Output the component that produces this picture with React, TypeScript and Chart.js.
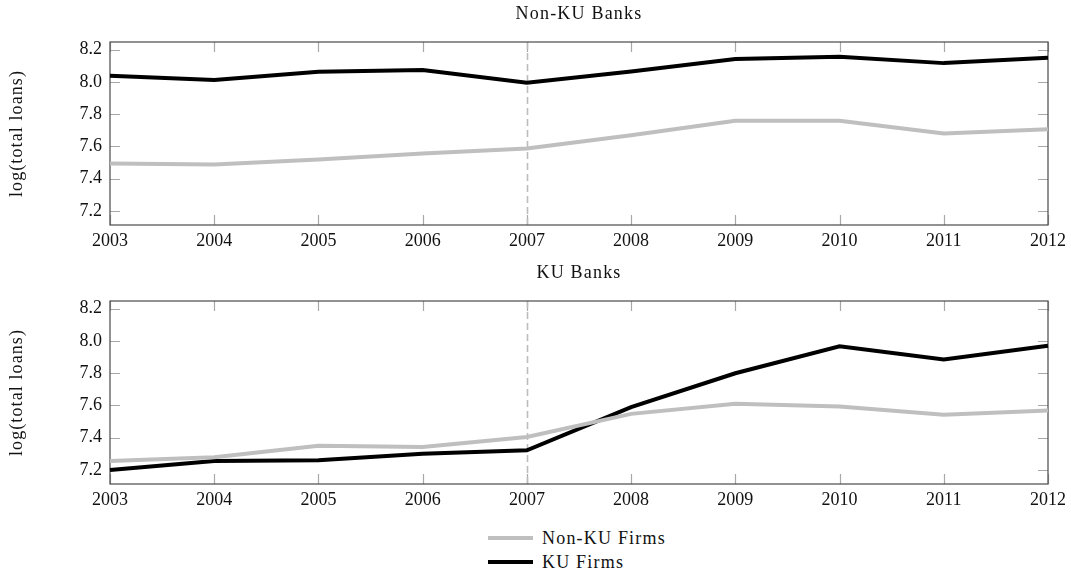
import React, { useEffect, useRef } from "react";
import { Chart, registerables } from "chart.js";

Chart.register(...registerables);

// Years on the horizontal axis
const years = ["2003", "2004", "2005", "2006", "2007", "2008", "2009", "2010", "2011", "2012"];
// Tick values on the vertical axis
const yTicks = [7.2, 7.4, 7.6, 7.8, 8.0, 8.2];
const yMin = 7.113;
const yMax = 8.248;
const breakYear = "2007";
const yAxisTitle = "log(total loans)";

// Non-KU Banks panel
const nonKuBanksNonKuFirms = [7.495, 7.489, 7.52, 7.557, 7.588, 7.67, 7.76, 7.76, 7.68, 7.707];
const nonKuBanksKuFirms = [8.038, 8.012, 8.063, 8.075, 7.995, 8.065, 8.142, 8.157, 8.117, 8.15];

// KU Banks panel
const kuBanksNonKuFirms = [7.256, 7.279, 7.35, 7.343, 7.405, 7.548, 7.611, 7.594, 7.542, 7.569];
const kuBanksKuFirms = [7.2, 7.255, 7.26, 7.3, 7.322, 7.59, 7.8, 7.967, 7.885, 7.97];

const seriesNames = ["Non-KU Firms", "KU Firms"];
const GRAY = "#bfbfbf";
const BLACK = "#000000";
const TEXT = "#111111";
const FONT = "'Liberation Serif', 'Times New Roman', serif";
const FONT_SIZE = 18;

// Frame, inward tick marks and the dashed marker line, drawn under the series
const framePlugin = {
  id: "frameTicks",
  beforeDatasetsDraw(chart: any) {
    const { ctx, chartArea: a, scales } = chart;
    const xs = scales.x;
    const ys = scales.y;
    const tl = 10;
    ctx.save();
    ctx.strokeStyle = "#a8a8a8";
    ctx.lineWidth = 1.2;
    ctx.beginPath();
    xs.ticks.forEach((_: any, i: number) => {
      const px = Math.round(xs.getPixelForTick(i)) + 0.5;
      ctx.moveTo(px, a.bottom);
      ctx.lineTo(px, a.bottom - tl);
      ctx.moveTo(px, a.top);
      ctx.lineTo(px, a.top + tl);
    });
    ys.ticks.forEach((t: any) => {
      const py = Math.round(ys.getPixelForValue(t.value)) + 0.5;
      ctx.moveTo(a.left, py);
      ctx.lineTo(a.left + tl, py);
      ctx.moveTo(a.right, py);
      ctx.lineTo(a.right - tl, py);
    });
    ctx.stroke();

    // dashed vertical line at the break year
    const bx = Math.round(xs.getPixelForValue(years.indexOf(breakYear))) + 0.5;
    ctx.strokeStyle = "#bcbcbc";
    ctx.lineWidth = 1.6;
    ctx.setLineDash([7, 4]);
    ctx.beginPath();
    ctx.moveTo(bx, a.top);
    ctx.lineTo(bx, a.bottom);
    ctx.stroke();
    ctx.setLineDash([]);

    ctx.strokeStyle = "#4a4a4a";
    ctx.lineWidth = 1.2;
    ctx.strokeRect(a.left, a.top, a.right - a.left, a.bottom - a.top);
    ctx.restore();
  },
};

// Panel title and rotated axis title, set with a little extra letter spacing
const titlesPlugin = {
  id: "panelTitles",
  afterDraw(chart: any, _args: any, opts: any) {
    const { ctx, chartArea: a } = chart;
    ctx.save();
    ctx.fillStyle = TEXT;
    ctx.font = `${FONT_SIZE}px ${FONT}`;
    ctx.textAlign = "center";
    ctx.textBaseline = "middle";
    (ctx as any).letterSpacing = "1.2px";
    ctx.fillText(opts.text, (a.left + a.right) / 2, 14);
    ctx.translate(17, (a.top + a.bottom) / 2);
    ctx.rotate(-Math.PI / 2);
    (ctx as any).letterSpacing = "1.1px";
    ctx.fillText(yAxisTitle, 0, 0);
    ctx.restore();
  },
};

function Panel({ title, nonKu, ku }: { title: string; nonKu: number[]; ku: number[] }) {
  const ref = useRef<HTMLCanvasElement | null>(null);
  useEffect(() => {
    if (!ref.current) return;
    const chart = new Chart(ref.current, {
      type: "line",
      data: {
        labels: years,
        datasets: [
          {
            label: seriesNames[0],
            data: nonKu,
            borderColor: GRAY,
            backgroundColor: GRAY,
            borderWidth: 4,
            pointRadius: 0,
            tension: 0,
          },
          {
            label: seriesNames[1],
            data: ku,
            borderColor: BLACK,
            backgroundColor: BLACK,
            borderWidth: 4,
            pointRadius: 0,
            tension: 0,
          },
        ],
      },
      options: {
        animation: false,
        responsive: false,
        maintainAspectRatio: false,
        layout: { padding: { left: 0, right: 22, top: 42, bottom: 0 } },
        plugins: {
          legend: { display: false },
          tooltip: { enabled: false },
          title: { display: false },
          panelTitles: { text: title },
        } as any,
        scales: {
          x: {
            type: "category",
            offset: false,
            grid: { display: false, drawTicks: false },
            border: { display: false },
            ticks: {
              color: TEXT,
              padding: 5,
              maxRotation: 0,
              autoSkip: false,
              font: { family: FONT, size: FONT_SIZE },
            },
            afterFit(scale: any) {
              scale.height = 30;
            },
          },
          y: {
            type: "linear",
            min: yMin,
            max: yMax,
            grid: { display: false, drawTicks: false },
            border: { display: false },
            ticks: {
              color: TEXT,
              padding: 8,
              font: { family: FONT, size: FONT_SIZE },
              callback: (v: any) => Number(v).toFixed(1),
            },
            afterBuildTicks(scale: any) {
              scale.ticks = yTicks.map((v) => ({ value: v }));
            },
            afterFit(scale: any) {
              scale.width = 110;
            },
          },
        },
      },
      plugins: [framePlugin, titlesPlugin],
    });
    return () => chart.destroy();
  }, [title, nonKu, ku]);
  return <canvas ref={ref} width={1071} height={255} style={{ display: "block" }} />;
}

function LegendRow({ color, label, top }: { color: string; label: string; top: number }) {
  return (
    <div style={{ position: "absolute", left: 488, top: top - 12, height: 24, display: "flex", alignItems: "center" }}>
      <span style={{ display: "inline-block", width: 45, height: 4, background: color }} />
      <span
        style={{
          marginLeft: 9,
          fontFamily: FONT,
          fontSize: FONT_SIZE,
          letterSpacing: "1.2px",
          color: TEXT,
          lineHeight: "24px",
          whiteSpace: "nowrap",
        }}
      >
        {label}
      </span>
    </div>
  );
}

export default function App() {
  return (
    <div style={{ position: "absolute", left: 0, top: 0, width: 1071, height: 570, background: "#fff", overflow: "hidden" }}>
      <div style={{ position: "absolute", left: 0, top: 0 }}>
        <Panel title="Non-KU Banks" nonKu={nonKuBanksNonKuFirms} ku={nonKuBanksKuFirms} />
      </div>
      <div style={{ position: "absolute", left: 0, top: 259 }}>
        <Panel title="KU Banks" nonKu={kuBanksNonKuFirms} ku={kuBanksKuFirms} />
      </div>
      <LegendRow color={GRAY} label={seriesNames[0]} top={538} />
      <LegendRow color={BLACK} label={seriesNames[1]} top={562} />
    </div>
  );
}
